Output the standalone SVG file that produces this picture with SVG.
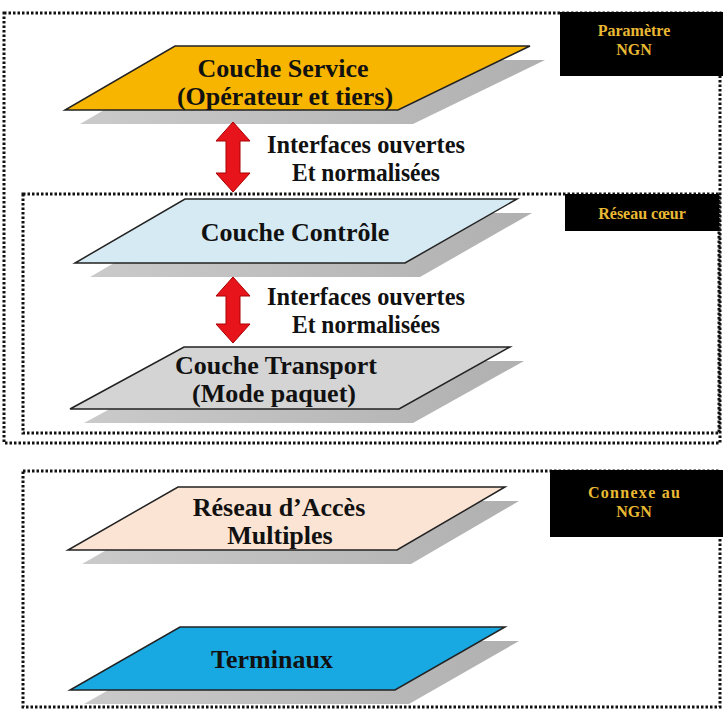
<svg xmlns="http://www.w3.org/2000/svg" width="723" height="711" viewBox="0 0 723 711">
  <style>
    .frame { fill: none; stroke: #111; stroke-width: 3; stroke-dasharray: 2.5 2; }
    .tag { fill: #000; }
    .tagtxt { font-family: "Liberation Serif", "Times New Roman", serif; font-weight: bold; font-size: 16px; fill: #e9b934; text-anchor: middle; }
    .layer { stroke: #222; stroke-width: 1.5; }
    .shadow { fill: url(#shade); }
    .lbl { font-family: "Liberation Serif", "Times New Roman", serif; font-weight: bold; font-size: 26px; fill: #111; text-anchor: middle; }
    .arrow { fill: #e8141c; stroke: #a00; stroke-width: 1; }
  </style>
  <defs>
    <linearGradient id="shade" x1="0" y1="0" x2="1" y2="0">
      <stop offset="0" stop-color="#cacaca"/>
      <stop offset="1" stop-color="#b0b0b0"/>
    </linearGradient>
  </defs>

  <!-- zone frames -->
  <g id="zone-ngn">
    <rect class="frame" x="4" y="13" width="716" height="430"/>
    <rect class="tag" x="560" y="12" width="163" height="64"/>
    <text class="tagtxt" x="634" y="36">Paramètre</text>
    <text class="tagtxt" x="634" y="55">NGN</text>
  </g>
  <g id="zone-coeur">
    <rect class="frame" x="23" y="194" width="696" height="239"/>
    <rect class="tag" x="565" y="194" width="154" height="37"/>
    <text class="tagtxt" x="642" y="219">Réseau cœur</text>
  </g>
  <g id="zone-connexe">
    <rect class="frame" x="23" y="471" width="697" height="236"/>
    <rect class="tag" x="550" y="470" width="173" height="67"/>
    <text class="tagtxt" x="634" y="498" textLength="92" lengthAdjust="spacing">Connexe au</text>
    <text class="tagtxt" x="634" y="517">NGN</text>
  </g>

  <!-- layers -->
  <g id="couche-service">
    <polygon class="shadow" points="190,60 545,60 413,124 80,124"/>
    <polygon class="layer" fill="#f7b500" points="175,46 530,46 398,110 65,110"/>
    <text class="lbl" x="283" y="77">Couche Service</text>
    <text class="lbl" x="285" y="105">(Opérateur et tiers)</text>
  </g>
  <g id="couche-controle">
    <polygon class="shadow" points="200,213 532,213 420,277 90,277"/>
    <polygon class="layer" fill="#d6eaf3" points="185,199 517,199 405,263 75,263"/>
    <text class="lbl" x="295" y="241">Couche Contrôle</text>
  </g>
  <g id="couche-transport">
    <polygon class="shadow" points="198,361 524,361 413,423 84,423"/>
    <polygon class="layer" fill="#d4d4d4" points="184,347 510,347 399,409 70,409"/>
    <text class="lbl" x="276" y="374">Couche Transport</text>
    <text class="lbl" x="274" y="402">(Mode paquet)</text>
  </g>
  <g id="reseau-acces">
    <polygon class="shadow" points="192,501 519,501 411,564 82,564"/>
    <polygon class="layer" fill="#fbe4d3" points="178,487 505,487 397,550 68,550"/>
    <text class="lbl" x="279" y="516">Réseau d’Accès</text>
    <text class="lbl" x="280" y="544">Multiples</text>
  </g>
  <g id="terminaux">
    <polygon class="shadow" points="194,641 519,641 409,704 84,704"/>
    <polygon class="layer" fill="#18a8e2" points="180,627 505,627 395,690 70,690"/>
    <text class="lbl" x="272" y="668">Terminaux</text>
  </g>

  <!-- interface connectors -->
  <g id="connectors">
    <path class="arrow" d="M233,122 L250,141 L240,141 L240,173 L250,173 L233,192 L216,173 L226,173 L226,141 L216,141 Z"/>
    <text class="lbl" x="366" y="153" textLength="198" lengthAdjust="spacingAndGlyphs">Interfaces ouvertes</text>
    <text class="lbl" x="366" y="181" textLength="148" lengthAdjust="spacingAndGlyphs">Et normalisées</text>
    <path class="arrow" d="M233,277 L250,296 L240,296 L240,324 L250,324 L233,343 L216,324 L226,324 L226,296 L216,296 Z"/>
    <text class="lbl" x="366" y="305" textLength="198" lengthAdjust="spacingAndGlyphs">Interfaces ouvertes</text>
    <text class="lbl" x="366" y="333" textLength="148" lengthAdjust="spacingAndGlyphs">Et normalisées</text>
  </g>
</svg>
